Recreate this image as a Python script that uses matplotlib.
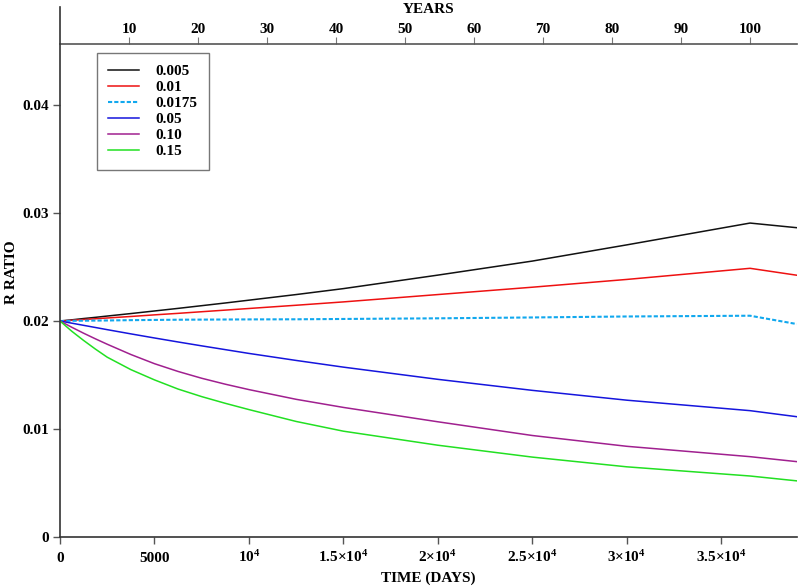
import matplotlib
matplotlib.use("Agg")
import matplotlib.pyplot as plt

plt.rcParams['font.family'] = ['Liberation Serif', 'DejaVu Serif']
plt.rcParams['font.weight'] = 'bold'
plt.rcParams['mathtext.default'] = 'regular'

# time in days, R ratio per decay constant
days = [0, 625, 1250, 1875, 2500, 3750, 5000, 6250, 7500, 8750, 10000, 12500, 15000,
        20000, 25000, 30000, 36525, 39000]
r_0005 = [0.0200, 0.02011, 0.02023, 0.02034, 0.02046, 0.02069, 0.02093, 0.02117, 0.02142, 0.02167,
          0.02193, 0.02245, 0.02300, 0.02425, 0.02555, 0.02705, 0.02907, 0.02864]
r_001 = [0.0200, 0.02007, 0.02014, 0.02021, 0.02028, 0.02042, 0.02057, 0.02071, 0.02086, 0.02101,
         0.02116, 0.02146, 0.02177, 0.02245, 0.02313, 0.02385, 0.02488, 0.02424]
r_00175 = [0.0200, 0.02002, 0.02003, 0.02004, 0.02005, 0.02008, 0.02010, 0.02012, 0.02013, 0.02014,
           0.02015, 0.02016, 0.02019, 0.02025, 0.02033, 0.02042, 0.02049, 0.01972]
r_005 = [0.0200, 0.01980, 0.01960, 0.01940, 0.01920, 0.01881, 0.01843, 0.01806, 0.01770, 0.01735,
         0.01700, 0.01635, 0.01573, 0.01460, 0.01358, 0.01267, 0.01170, 0.01114]
r_010 = [0.0200, 0.01942, 0.01887, 0.01835, 0.01785, 0.01690, 0.01605, 0.01533, 0.01470, 0.01415,
         0.01365, 0.01275, 0.01200, 0.01067, 0.00940, 0.00840, 0.00744, 0.00698]
r_015 = [0.0200, 0.01905, 0.01820, 0.01740, 0.01665, 0.01550, 0.01455, 0.01370, 0.01300, 0.01238,
         0.01180, 0.01070, 0.00980, 0.00850, 0.00740, 0.00650, 0.00565, 0.00520]

labels = ['0.005', '0.01', '0.0175', '0.05', '0.10', '0.15']
colors = ['#111111', '#ee1111', '#11a8ee', '#1515dd', '#a0208f', '#22e022']

xticks = [0, 5000, 10000, 15000, 20000, 25000, 30000, 35000]
xticklabels = ['0', '5000', '10$^{4}$', '1.5×10$^{4}$', '2×10$^{4}$',
               '2.5×10$^{4}$', '3×10$^{4}$', '3.5×10$^{4}$']
yticks = [0, 0.01, 0.02, 0.03, 0.04]
yticklabels = ['0', '0.01', '0.02', '0.03', '0.04']
years = [10, 20, 30, 40, 50, 60, 70, 80, 90, 100]

fig = plt.figure(figsize=(8, 5.88), dpi=100)
ax = fig.add_axes([0.075, 0.0867, 0.921, 0.9013])

series = [r_0005, r_001, r_00175, r_005, r_010, r_015]
for vals, lab, col in zip(series, labels, colors):
    if lab == '0.0175':
        ax.plot(days, vals, color=col, lw=1.5, ls=(0, (2, 1)), label=lab)
    else:
        ax.plot(days, vals, color=col, lw=1.1, label=lab)

ax.set_xlim(0, 39000)
ax.set_ylim(0, 0.04907)
for s in ['top', 'right']:
    ax.spines[s].set_visible(False)
for s in ['left', 'bottom']:
    ax.spines[s].set_color('#333333')
    ax.spines[s].set_linewidth(1.2)

fs = 11
ax.set_xticks(xticks)
ax.set_xticklabels(xticklabels)
ax.set_yticks(yticks)
ax.set_yticklabels(yticklabels)
ax.tick_params(axis='both', colors='#555555', labelcolor='black', labelsize=fs, length=5, width=1)
ax.tick_params(axis='x', pad=13)
ax.tick_params(axis='y', pad=3)
for lbl in ax.get_xticklabels():
    lbl.set_va('baseline')

ax.set_xlabel('TIME (DAYS)', fontsize=fs, fontweight='bold', labelpad=5)
ax.set_ylabel('R RATIO', fontsize=fs, fontweight='bold', labelpad=3)

# years axis drawn inside near the top
sec = ax.secondary_xaxis(0.930, functions=(lambda d: d / 365.25, lambda y: y * 365.25))
sec.set_xticks(years)
sec.set_xticklabels([str(y) for y in years])
sec.spines['top'].set_color('#555555')
sec.spines['top'].set_linewidth(1.2)
sec.tick_params(colors='#777777', labelcolor='black', labelsize=fs, length=5, pad=1)
sec.set_xlabel('YEARS', fontsize=fs, fontweight='bold', labelpad=7)

leg = ax.legend(loc='upper left', bbox_to_anchor=(0.050, 0.913), borderaxespad=0,
                fancybox=False, edgecolor='#777777', framealpha=1, fontsize=fs,
                handlelength=2.0, handletextpad=1.1, labelspacing=0.15, borderpad=0.75)
leg.get_frame().set_linewidth(1.0)

fig.savefig('out.png', dpi=100)
